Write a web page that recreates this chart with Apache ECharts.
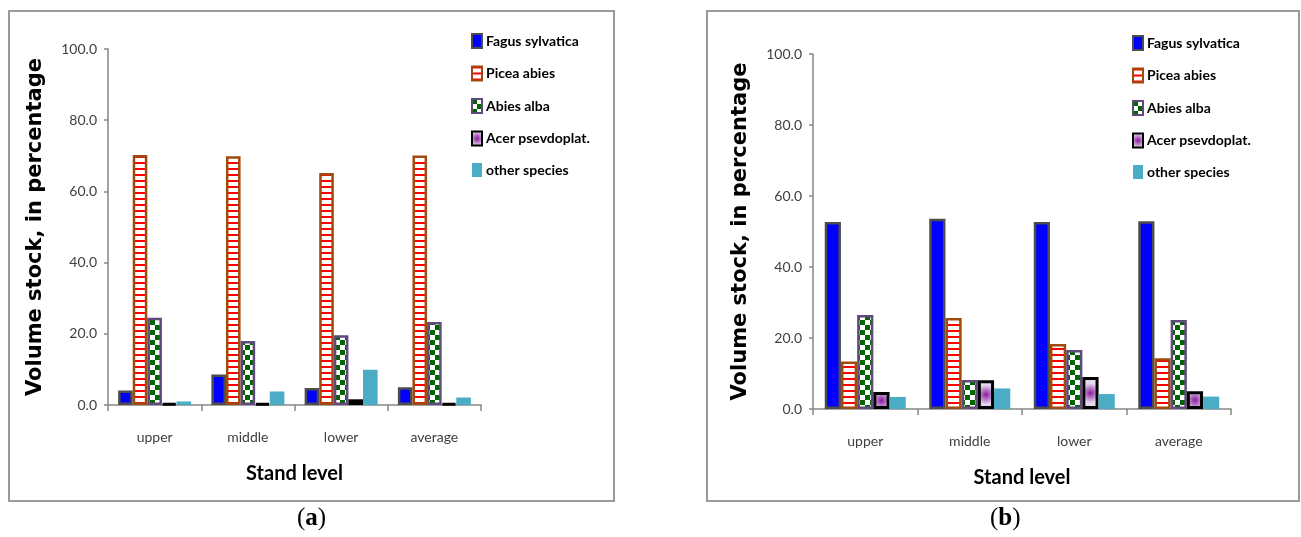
<!DOCTYPE html>
<html>
<head>
<meta charset="utf-8">
<script src="https://cdn.jsdelivr.net/npm/echarts@6/dist/echarts.min.js"></script>
<style>
html,body{margin:0;padding:0;background:#fff;}
#c{width:1301px;height:537px;}
</style>
</head>
<body>
<div id="c"></div>
<script>
// ---------- data ----------
var categories = ['upper', 'middle', 'lower', 'average'];
var speciesNames = ['Fagus sylvatica', 'Picea abies', 'Abies alba', 'Acer psevdoplat.', 'other species'];
var yTicks = [0, 20, 40, 60, 80, 100];

// panel (a)
var fagusA = [4.1, 8.6, 4.8, 5.0];
var piceaA = [70.2, 69.9, 65.2, 70.1];
var abiesA = [24.5, 18.0, 19.6, 23.3];
var acerA  = [0.4, 0.4, 1.6, 0.4];
var otherA = [1.0, 3.8, 9.9, 2.1];

// panel (b)
var fagusB = [52.7, 53.6, 52.7, 52.9];
var piceaB = [13.4, 25.6, 18.3, 14.3];
var abiesB = [26.5, 8.2, 16.6, 25.1];
var acerB  = [4.8, 8.1, 9.0, 5.0];
var otherB = [3.4, 5.8, 4.2, 3.5];

// ---------- patterns ----------
function stripeCanvas() {
  var c = document.createElement('canvas');
  c.width = 8; c.height = 6;
  var g = c.getContext('2d');
  g.fillStyle = '#ffffff'; g.fillRect(0, 0, 8, 6);
  g.fillStyle = '#ff0000'; g.fillRect(0, 0, 8, 2);
  return c;
}
function checkerCanvas() {
  var c = document.createElement('canvas');
  c.width = 10; c.height = 10;
  var g = c.getContext('2d');
  g.fillStyle = '#ffffff'; g.fillRect(0, 0, 10, 10);
  g.fillStyle = '#006400';
  g.fillRect(0, 0, 5, 5); g.fillRect(5, 5, 5, 5);
  return c;
}
var stripePat = { image: stripeCanvas(), repeat: 'repeat' };
var checkerPat = { image: checkerCanvas(), repeat: 'repeat' };
var acerGrad = {
  type: 'radial', x: 0.5, y: 0.5, r: 0.6,
  colorStops: [{ offset: 0, color: '#8a1a9e' }, { offset: 1, color: '#e4d8ee' }]
};

var styles = [
  { color: '#0000ff', borderColor: '#4d4d4d', borderWidth: 2.5 },
  { color: stripePat, borderColor: '#a04a10', borderWidth: 2.5 },
  { color: checkerPat, borderColor: '#604a7b', borderWidth: 2.5 },
  { color: acerGrad, borderColor: '#000000', borderWidth: 3 },
  { color: '#4bacc6', borderWidth: 0 }
];

var SANS = 'Lato, "Liberation Sans", sans-serif';
var axisGray = '#868686';

function makeSeries(dataArr, gridIdx, bw) {
  return dataArr.map(function (d, i) {
    return {
      name: speciesNames[i],
      type: 'bar',
      xAxisIndex: gridIdx, yAxisIndex: gridIdx,
      data: d,
      barWidth: bw,
      barGap: '0%',
      itemStyle: styles[i],
      emphasis: { disabled: true }
    };
  });
}

function xAx(gridIdx) {
  return {
    type: 'category', gridIndex: gridIdx, data: categories,
    axisLine: { lineStyle: { color: axisGray, width: 1.5 } },
    axisTick: { show: true, length: 6, lineStyle: { color: axisGray, width: 1.5 } },
    axisLabel: { color: '#404040', fontSize: 14, fontFamily: SANS, margin: 25 },
    name: 'Stand level', nameLocation: 'middle', nameGap: 59,
    nameTextStyle: { fontSize: 20, fontWeight: 'bold', fontFamily: SANS, color: '#000' }
  };
}
function yAx(gridIdx) {
  return {
    type: 'value', gridIndex: gridIdx, min: yTicks[0], max: yTicks[yTicks.length - 1], interval: 20,
    splitLine: { show: false },
    axisLine: { show: true, lineStyle: { color: axisGray, width: 1.5 } },
    axisTick: { show: true, length: 4, lineStyle: { color: axisGray, width: 1.5 } },
    axisLabel: { color: '#404040', fontSize: 14, fontFamily: SANS, margin: 11,
      formatter: function (v) { return v.toFixed(1); } },
    name: 'Volume stock, in percentage', nameLocation: 'middle', nameGap: 62,
    nameTextStyle: { fontSize: 21, fontWeight: 'bold', fontFamily: '"DejaVu Sans", sans-serif', color: '#000' }
  };
}
function legend(left, top) {
  return {
    orient: 'vertical', left: left, top: top, padding: 0,
    itemWidth: 10, itemHeight: 14, itemGap: 16.5, icon: 'rect',
    selectedMode: false,
    textStyle: { fontSize: 14, fontFamily: SANS, color: '#000', fontWeight: 'bold', lineHeight: 14, padding: [0, 0, 0, -1] },
    data: speciesNames
  };
}

var chart = echarts.init(document.getElementById('c'), null, { renderer: 'canvas' });
chart.setOption({
  animation: false,
  backgroundColor: '#ffffff',
  grid: [
    { left: 108, top: 49, width: 373, height: 356 },
    { left: 813, top: 54, width: 418, height: 355 }
  ],
  xAxis: [xAx(0), xAx(1)],
  yAxis: [yAx(0), yAx(1)],
  legend: [legend(471, 33), legend(1132, 35)],
  series: makeSeries([fagusA, piceaA, abiesA, acerA, otherA], 0, 14.6)
    .concat(makeSeries([fagusB, piceaB, abiesB, acerB, otherB], 1, 16.2)),
  graphic: [
    { type: 'rect', shape: { x: 9, y: 11, width: 605, height: 490 }, style: { fill: 'none', stroke: '#9a9a9a', lineWidth: 2 }, z: -1 },
    { type: 'rect', shape: { x: 707, y: 11, width: 592, height: 490 }, style: { fill: 'none', stroke: '#9a9a9a', lineWidth: 2 }, z: -1 },
    { type: 'text', left: 297, top: 506, style: { text: '({b|a})', font: '25px "Liberation Serif", serif', fill: '#000',
        rich: { b: { fontWeight: 'bold', fontSize: 25, fontFamily: '"Liberation Serif", serif' } } } },
    { type: 'text', left: 990, top: 506, style: { text: '({b|b})', font: '25px "Liberation Serif", serif', fill: '#000',
        rich: { b: { fontWeight: 'bold', fontSize: 25, fontFamily: '"Liberation Serif", serif' } } } }
  ]
});
</script>
</body>
</html>
